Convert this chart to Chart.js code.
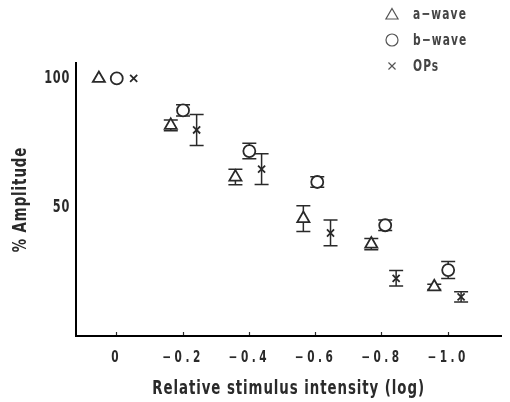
<!DOCTYPE html>
<html>
<head>
<meta charset="utf-8">
<script src="https://cdn.jsdelivr.net/npm/chart.js@4.4.1/dist/chart.umd.min.js"></script>
<style>
  html, body { margin: 0; padding: 0; background: #ffffff; }
  #wrap { width: 510px; height: 402px; position: relative; }
</style>
</head>
<body>
<div id="wrap"><canvas id="c" width="510" height="402"></canvas></div>
<script>
// ---- data ----
const tickValues = [0, -0.2, -0.4, -0.6, -0.8, -1.0];
const tickLabels = ['0', '\u22120.2', '\u22120.4', '\u22120.6', '\u22120.8', '\u22121.0'];
const yTickValues = [50, 100];
const seriesNames = ['a\u2212wave', 'b\u2212wave', 'OPs'];

const aX   = [0.054, -0.163, -0.358, -0.563, -0.768, -0.958];
const aVal = [100, 81.8, 61.7, 45.6, 35.7, 19.1];
const aErr = [0, 2.1, 3.0, 5.0, 2.2, 1.0];

const bX   = [0, -0.2, -0.4, -0.605, -0.81, -1.0];
const bVal = [100, 87.6, 71.8, 59.8, 43.0, 25.6];
const bErr = [0, 2.2, 3.0, 2.0, 2.0, 3.3];

const oX   = [-0.051, -0.241, -0.437, -0.645, -0.843, -1.039];
const oVal = [100, 80.0, 64.8, 40.0, 22.4, 15.2];
const oErr = [0, 6.0, 6.0, 5.0, 3.0, 2.0];

const FONT = "'DejaVu Sans Condensed', 'DejaVu Sans', sans-serif";
const INK = '#2a2a2a';

function pts(xs, ys) { return xs.map((x, i) => ({ x: x, y: ys[i] })); }

// draw text horizontally condensed around its own anchor
function condensed(ctx, sx, spacing, fn) {
  const orig = CanvasRenderingContext2D.prototype.fillText;
  ctx.save();
  ctx.letterSpacing = spacing;
  ctx.fillText = function (t, x, y, mw) {
    this.save();
    this.translate(x, y);
    this.scale(sx, 1);
    if (mw === undefined) orig.call(this, t, 0, 0); else orig.call(this, t, 0, 0, mw / sx);
    this.restore();
  };
  try { fn(); } finally { delete ctx.fillText; ctx.restore(); }
}

function wrapText(scale, lab, tit) {
  if (scale._wrappedSp) return;
  scale._wrappedSp = true;
  const dl = scale.drawLabels.bind(scale);
  const dt = scale.drawTitle.bind(scale);
  scale.drawLabels = function (ca) { condensed(this.ctx, lab[0], lab[1], () => dl(ca)); };
  scale.drawTitle = function () { condensed(this.ctx, tit[0], tit[1], () => dt()); };
}

const errorBars = {
  id: 'errorBars',
  beforeDatasetsDraw(chart) {
    const ctx = chart.ctx, xs = chart.scales.x, ys = chart.scales.y;
    const errs = [aErr, bErr, oErr];
    ctx.save();
    ctx.strokeStyle = INK;
    ctx.lineWidth = 1.5;
    chart.data.datasets.forEach((ds, di) => {
      ds.data.forEach((p, j) => {
        const e = errs[di][j];
        if (!e) return;
        const px = xs.getPixelForValue(p.x);
        const y1 = ys.getPixelForValue(p.y + e);
        const y2 = ys.getPixelForValue(p.y - e);
        ctx.beginPath();
        ctx.moveTo(px, y1); ctx.lineTo(px, y2);
        ctx.moveTo(px - 7, y1); ctx.lineTo(px + 7, y1);
        ctx.moveTo(px - 7, y2); ctx.lineTo(px + 7, y2);
        ctx.stroke();
      });
    });
    ctx.restore();
  }
};

const sideLegend = {
  id: 'sideLegend',
  afterDraw(chart) {
    const ctx = chart.ctx;
    const styles = ['triangle', 'circle', 'crossRot'];
    const radii = [7, 6, 5];
    const x0 = 392, y0 = 14, dy = 26;
    ctx.save();
    ctx.fillStyle = '#ffffff';
    ctx.strokeStyle = '#555';
    ctx.lineWidth = 1.2;
    seriesNames.forEach((name, i) => {
      const y = y0 + i * dy;
      Chart.helpers.drawPoint(ctx, {
        pointStyle: styles[i], radius: radii[i], borderWidth: 1.2, rotation: 0
      }, x0, y + (i === 0 ? 1.5 : 0));
    });
    ctx.restore();
    ctx.save();
    ctx.fillStyle = '#444';
    ctx.font = 'bold 16px ' + FONT;
    ctx.textBaseline = 'middle';
    ctx.textAlign = 'left';
    condensed(ctx, 0.74, '1.5px', () => {
      seriesNames.forEach((name, i) => {
        ctx.fillText(name, 413, y0 + i * dy + 1);
      });
    });
    ctx.restore();
  }
};

const markerCommon = { borderColor: INK, backgroundColor: '#ffffff', borderWidth: 1.8, showLine: false };

new Chart(document.getElementById('c'), {
  type: 'scatter',
  data: {
    datasets: [
      Object.assign({ label: seriesNames[0], data: pts(aX, aVal), pointStyle: 'triangle', pointRadius: 7 }, markerCommon),
      Object.assign({ label: seriesNames[1], data: pts(bX, bVal), pointStyle: 'circle', pointRadius: 6 }, markerCommon),
      Object.assign({ label: seriesNames[2], data: pts(oX, oVal), pointStyle: 'crossRot', pointRadius: 5 }, markerCommon)
    ]
  },
  options: {
    responsive: false,
    animation: false,
    devicePixelRatio: 1,
    layout: { padding: { top: 63, right: 8, left: 0, bottom: 0 } },
    plugins: { legend: { display: false }, tooltip: { enabled: false } },
    scales: {
      x: {
        type: 'linear',
        reverse: true,
        min: -1.16,
        max: 0.123,
        afterBuildTicks(s) { s.ticks = tickValues.map(v => ({ value: v })); },
        afterFit(s) { s.height = 66; wrapText(s, [0.78, '4.5px'], [0.78, '1.2px']); },
        ticks: {
          color: INK,
          font: { family: FONT, size: 15, weight: 'bold' },
          padding: 17,
          autoSkip: false,
          maxRotation: 0,
          callback(v) { const i = tickValues.findIndex(t => Math.abs(t - v) < 1e-6); return i >= 0 ? tickLabels[i] : ''; }
        },
        grid: { display: true, drawOnChartArea: false, drawTicks: true, tickLength: -4, tickColor: INK, tickWidth: 1.2 },
        border: { display: true, color: '#000', width: 2 },
        title: {
          display: true, text: 'Relative stimulus intensity (log)', color: INK,
          font: { family: FONT, size: 19, weight: 'bold' },
          padding: { top: 0, bottom: 2 }
        }
      },
      y: {
        type: 'linear',
        min: 0,
        max: 106,
        afterBuildTicks(s) { s.ticks = yTickValues.map(v => ({ value: v })); },
        afterFit(s) { s.width = 76; wrapText(s, [0.74, '1px'], [0.78, '1.2px']); },
        ticks: {
          color: INK,
          font: { family: FONT, size: 17, weight: 'bold' },
          padding: 6
        },
        grid: { display: false, drawTicks: false },
        border: { display: true, color: '#000', width: 2 },
        title: {
          display: true, text: '% Amplitude', color: INK,
          font: { family: FONT, size: 19, weight: 'bold' },
          padding: { top: 10, bottom: 0 }
        }
      }
    }
  },
  plugins: [errorBars, sideLegend]
});
</script>
</body>
</html>
